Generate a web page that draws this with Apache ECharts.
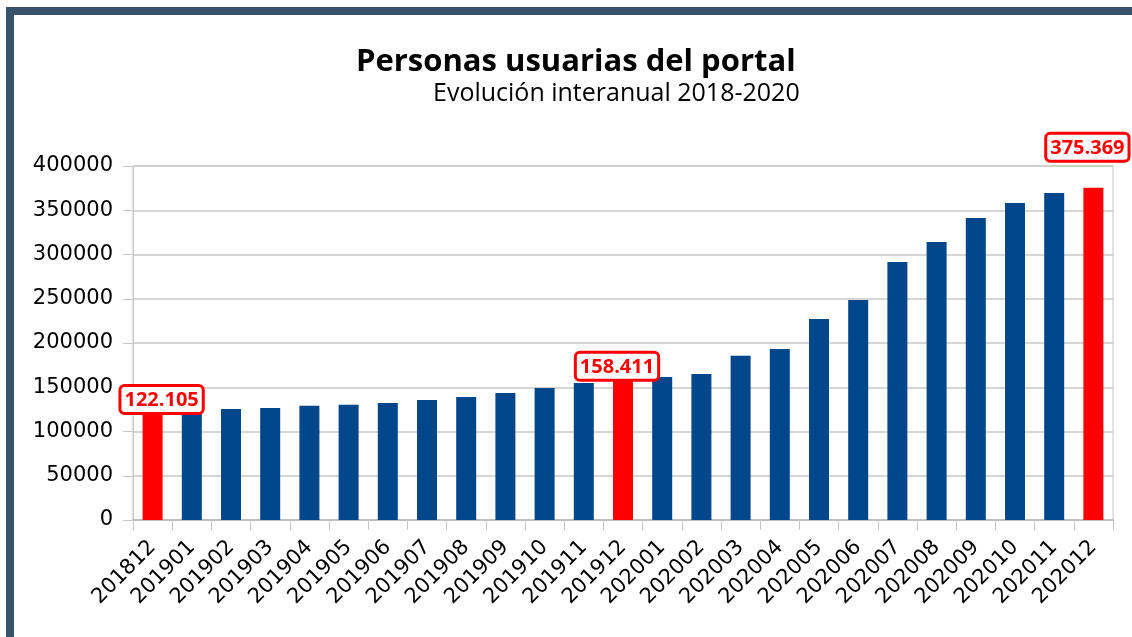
<!DOCTYPE html>
<html>
<head>
<meta charset="utf-8">
<script src="https://cdn.jsdelivr.net/npm/echarts@6/dist/echarts.min.js"></script>
<style>
  html, body { margin: 0; padding: 0; background: #fff; }
  #wrap { position: relative; width: 1132px; height: 637px; overflow: hidden; }
  #chart { width: 1132px; height: 637px; }
  #marco {
    position: absolute; left: 6px; top: 7px; width: 1200px; height: 700px;
    border-top: 8px solid #37526b; border-left: 8px solid #37526b;
    pointer-events: none;
  }
</style>
</head>
<body>
<div id="wrap">
  <div id="chart"></div>
  <div id="marco"></div>
</div>
<script>
// meses (AAAAMM)
const meses = ['201812', '201901', '201902', '201903', '201904', '201905', '201906',
    '201907', '201908', '201909', '201910', '201911', '201912', '202001', '202002',
    '202003', '202004', '202005', '202006', '202007', '202008', '202009', '202010',
    '202011', '202012'];

// personas usuarias por mes
const usuarios = [122105, 123800, 125400, 126600, 129100, 130300, 132200, 135600,
    139000, 143500, 149200, 154800, 158411, 161600, 165000, 185600, 193200, 227100,
    248600, 291500, 314100, 341200, 358200, 369500, 375369];

// meses destacados en rojo (diciembre)
const destacados = ['201812', '201912', '202012'];

const yTicks = [0, 50000, 100000, 150000, 200000, 250000, 300000, 350000, 400000];

const azul = '#00468a';
const rojo = '#ff0000';

const formatoMiles = (v) => String(v).replace(/\B(?=(\d{3})+(?!\d))/g, '.');

// posicion de cada etiqueta
const ajusteEtiqueta = {
    '201812': { offset: [9, 0], distance: 0 },
    '201912': { offset: [-6, 0], distance: 1 },
    '202012': { offset: [-6, 0], distance: 28 }
};

const datos = usuarios.map((v, i) => {
    const mes = meses[i];
    if (!destacados.includes(mes)) {
        return { value: v, itemStyle: { color: azul } };
    }
    const aj = ajusteEtiqueta[mes];
    return {
        value: v,
        itemStyle: { color: rojo },
        label: {
            show: true,
            position: 'top',
            distance: aj.distance,
            offset: aj.offset,
            formatter: (p) => formatoMiles(p.value),
            fontFamily: 'Open Sans',
            fontWeight: 'bold',
            fontSize: 20,
            color: rojo,
            backgroundColor: '#fff',
            borderColor: rojo,
            borderWidth: 3,
            borderRadius: 3,
            padding: [3, 3, 2, 3]
        }
    };
});

let chartDom = document.getElementById('chart');
let myChart = echarts.init(chartDom, null, { renderer: 'canvas' });

let option = {
    animation: false,
    backgroundColor: '#fff',
    title: [
        {
            text: 'Personas usuarias del portal',
            left: 351,
            top: 42,
            textStyle: {
                fontFamily: 'Open Sans',
                fontWeight: 'bold',
                fontSize: 31,
                color: '#000'
            }
        },
        {
            text: 'Evolución interanual 2018-2020',
            left: 428,
            top: 76,
            textStyle: {
                fontFamily: 'Open Sans',
                fontWeight: 'normal',
                fontSize: 25,
                color: '#000'
            }
        }
    ],
    grid: {
        left: 133,
        right: 19,
        top: 166,
        bottom: 117,
        show: true,
        borderColor: '#c6c6c6',
        borderWidth: 1,
        containLabel: false
    },
    xAxis: {
        type: 'category',
        data: meses,
        axisLine: { lineStyle: { color: '#bdbdbd', width: 2 } },
        axisTick: { show: true, length: 10, lineStyle: { color: '#c6c6c6' } },
        axisLabel: {
            rotate: 45,
            interval: 0,
            margin: 24,
            fontFamily: 'DejaVu Sans',
            fontSize: 21,
            color: '#000'
        }
    },
    yAxis: {
        type: 'value',
        min: yTicks[0],
        max: yTicks[yTicks.length - 1],
        interval: yTicks[1] - yTicks[0],
        axisLine: { show: true, lineStyle: { color: '#c6c6c6' } },
        axisTick: { show: true, length: 10, inside: false, lineStyle: { color: '#c6c6c6' } },
        splitLine: { lineStyle: { color: '#c8c8c8', width: 1.5 } },
        axisLabel: {
            margin: 20,
            fontFamily: 'DejaVu Sans',
            fontSize: 21,
            color: '#000',
            formatter: (v) => String(v)
        }
    },
    series: [
        {
            type: 'bar',
            data: datos,
            barWidth: '51%'
        }
    ]
};

option && myChart.setOption(option);
</script>
</body>
</html>
